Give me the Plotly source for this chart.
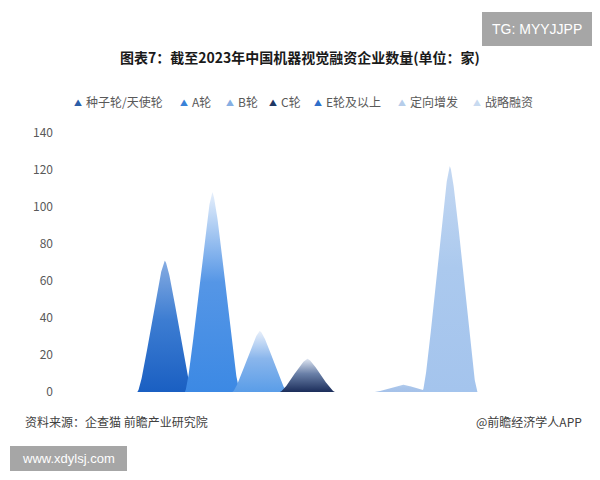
import numpy as np
import plotly.graph_objects as go

# ---- data ----
categories = ["种子轮/天使轮", "A轮", "B轮", "C轮", "E轮及以上", "定向增发", "战略融资"]
values = [71, 108, 33, 18, 0, 4, 122]
y_ticks = [0, 20, 40, 60, 80, 100, 120, 140]

# ---- styles ----
legend_colors = ["#2b5ea8", "#3a82d8", "#86afe3", "#1f3864", "#2f6fca", "#b6cdea", "#c8daf0"]
grad_bottom = ["#1a5fc2", "#3c89e4", "#5a9de8", "#1b2d5a", "#2f6fca", "#a6c2e9", "#a4c4ed"]
grad_mid = ["#3d7dd2", "#5596e6", "#8ab6ec", "#6a80a8", "#6a9ae0", "#a8c4ea", "#abc9ee"]
grad_top = ["#86ace2", "#e6effb", "#e8effa", "#dfe6f2", "#d8e4f5", "#b3cced", "#c4d8f2"]
legend_px = [78, 184, 230, 273, 318, 402, 477]

half_width = 0.58
W, H = 600, 480
ML, MR, MT, MB = 58, 10, 133, 88
PW, PH = W - ML - MR, H - MT - MB


def px2x(px):
    return (px - ML) / PW


def py2y(py):
    return (H - MB - py) / PH


fig = go.Figure()

for i, (cat, v) in enumerate(zip(categories, values)):
    if v > 0:
        u = np.linspace(-1, 1, 241)
        xs = i + u * half_width
        ys = v * np.clip(1 - np.abs(u) ** 1.4, 0, 1) ** 1.45
        fig.add_trace(go.Scatter(
            x=xs, y=ys, mode="lines", line=dict(width=0),
            fill="tozeroy", name=cat,
            fillgradient=dict(type="vertical", start=0, stop=v,
                              colorscale=[[0, grad_bottom[i]], [0.55, grad_mid[i]], [1, grad_top[i]]]),
            showlegend=False, hoverinfo="skip",
        ))

fig.update_layout(
    width=W, height=H,
    paper_bgcolor="white", plot_bgcolor="white",
    margin=dict(l=ML, r=MR, t=MT, b=MB, autoexpand=False),
    font=dict(family="Noto Sans CJK SC, Noto Sans, sans-serif", color="#595959", size=12),
    xaxis=dict(range=[-2.25, 8.95], showgrid=False, zeroline=False, showline=False,
               showticklabels=False, ticks=""),
    yaxis=dict(range=[0, 140], tickvals=y_ticks, showgrid=False, zeroline=False,
               showline=False, ticks="", ticklabelstandoff=4,
               tickfont=dict(size=12, color="#595959")),
    showlegend=False,
)

# legend (triangle + label)
for i, cat in enumerate(categories):
    fig.add_annotation(text="▲", xref="paper", yref="paper",
                       x=px2x(legend_px[i]), y=py2y(102), xanchor="center", yanchor="middle",
                       showarrow=False, font=dict(size=8, color=legend_colors[i]))
    fig.add_annotation(text=cat, xref="paper", yref="paper",
                       x=px2x(legend_px[i] + 6), y=py2y(101), xanchor="left", yanchor="middle",
                       showarrow=False, font=dict(size=12, color="#595959"))

# title
fig.add_annotation(text="<b>图表7：截至2023年中国机器视觉融资企业数量(单位：家)</b>",
                   xref="paper", yref="paper", x=px2x(300), xanchor="center",
                   y=py2y(57), yanchor="middle",
                   showarrow=False, font=dict(size=14, color="#1a1a1a"))

# footer
fig.add_annotation(text="资料来源：企查猫 前瞻产业研究院", xref="paper", yref="paper",
                   x=px2x(23), xanchor="left", y=py2y(421), yanchor="middle",
                   showarrow=False, font=dict(size=12, color="#404040"))
fig.add_annotation(text="@前瞻经济学人APP", xref="paper", yref="paper",
                   x=px2x(584), xanchor="right", y=py2y(421), yanchor="middle",
                   showarrow=False, font=dict(size=12, color="#404040"))

# grey badges
fig.add_shape(type="rect", xref="paper", yref="paper",
              x0=px2x(482), x1=px2x(592), y0=py2y(46), y1=py2y(12),
              fillcolor="#a6a6a6", line=dict(width=0), layer="above")
fig.add_annotation(text="TG: MYYJJPP", xref="paper", yref="paper",
                   x=px2x(537), y=py2y(29), xanchor="center", yanchor="middle",
                   showarrow=False, font=dict(size=14, color="white", family="Liberation Sans, Arial, sans-serif"))
fig.add_shape(type="rect", xref="paper", yref="paper",
              x0=px2x(10), x1=px2x(127), y0=py2y(471), y1=py2y(446),
              fillcolor="#a6a6a6", line=dict(width=0), layer="above")
fig.add_annotation(text="www.xdylsj.com", xref="paper", yref="paper",
                   x=px2x(68), y=py2y(458), xanchor="center", yanchor="middle",
                   showarrow=False, font=dict(size=13, color="white", family="Liberation Sans, Arial, sans-serif"))

fig.write_html("out.html", config={"displayModeBar": False},
               post_script="document.body.style.margin='0px';")
